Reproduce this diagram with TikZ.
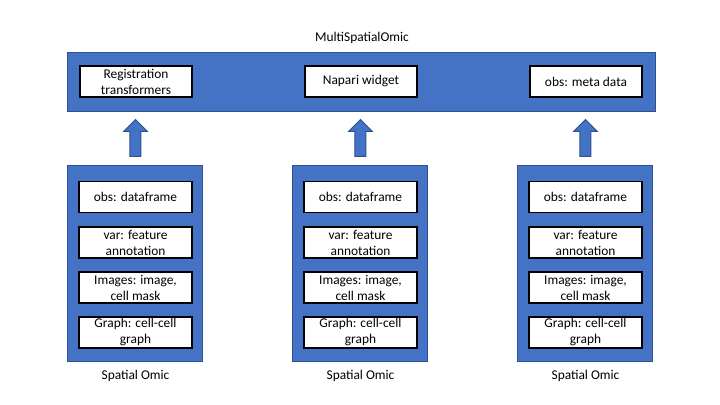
\documentclass[tikz,border=0pt]{standalone}
\usepackage{fontspec}
\setmainfont{Carlito}
\usetikzlibrary{calc}
\definecolor{bfill}{HTML}{4472C4}
\definecolor{bline}{HTML}{2F528F}
\begin{document}
\begin{tikzpicture}[x=0.5pt,y=-0.5pt,
  panel/.style={draw=bline, fill=bfill, line width=0.5pt, inner sep=0pt},
  toppanel/.style={panel, minimum width=294pt, minimum height=29.5pt},
  colpanel/.style={panel, minimum width=67.5pt, minimum height=98pt},
  wbox/.style={draw=black, fill=white, line width=0.6pt, inner sep=0pt,
    minimum width=56pt, minimum height=15.5pt, align=center,
    font=\fontsize{6.7}{8}\selectfont},
  cbox/.style={wbox, minimum width=56.5pt},
  lbl/.style={inner sep=0pt, font=\fontsize{6.7}{8}\selectfont},
  arr/.style={draw=bline, fill=bfill, line width=0.5pt, line join=miter}
]
\useasboundingbox (0,0) rectangle (720,405);

% top panel
\node[lbl] (title) at (362,38) {MultiSpatialOmic};
\node[toppanel] (top) at (362,82.5) {};
\node[wbox] (reg) at (136,81.5) {Registration\\transformers};
\node[wbox] (nap) at (361,81.5) {Napari widget};
\node[wbox] (meta) at (586,81.5) {obs: meta data};

% columns
\foreach \i/\cx in {1/135.5, 2/360.5, 3/585.5} {
  \node[colpanel] (s\i) at (\cx,264) {};
  \node[cbox] (obs\i) at (\cx,197) {obs: dataframe};
  \node[cbox] (var\i) at (\cx,242.5) {var: feature\\annotation};
  \node[cbox] (img\i) at (\cx,287.5) {Images: image,\\cell mask};
  \node[cbox] (gr\i) at (\cx,332.5) {Graph: cell-cell\\graph};
  \node[lbl] (lab\i) at (\cx,376) {Spatial Omic};
  \coordinate (b\i) at ($(s\i.north)+(0,-9)$);
  \coordinate (t\i) at ($(s\i.north |- top.south)+(0,7)$);
  \draw[arr] ($(b\i)+(-5.5,0)$) -- ($(t\i)+(-5.5,12)$) -- ($(t\i)+(-12,12)$)
    -- (t\i) -- ($(t\i)+(12,12)$) -- ($(t\i)+(5.5,12)$) -- ($(b\i)+(5.5,0)$) -- cycle;
}
\end{tikzpicture}
\end{document}
